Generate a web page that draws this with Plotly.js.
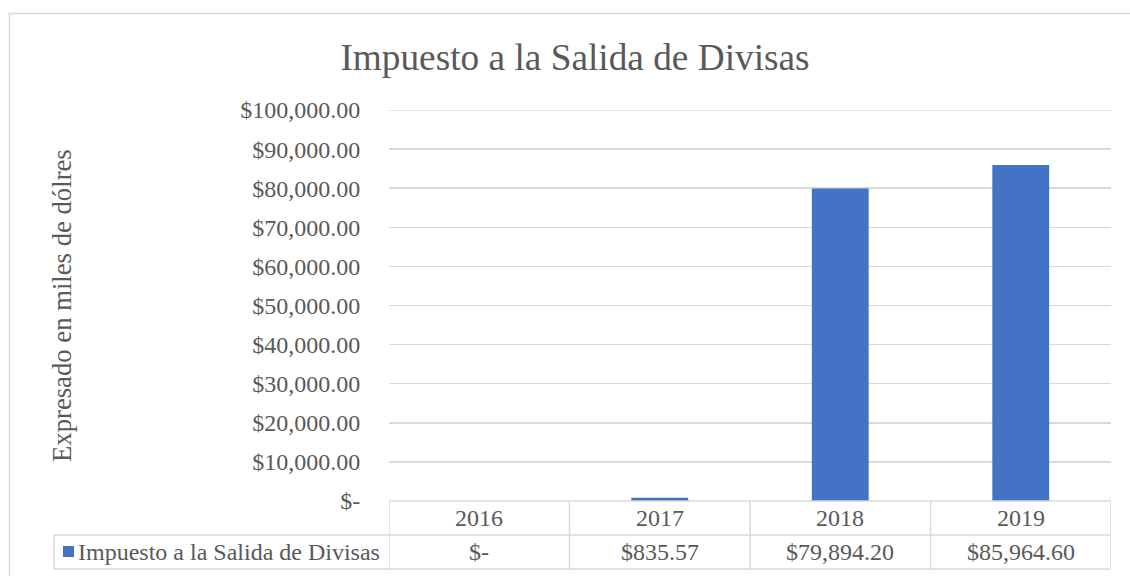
<!DOCTYPE html>
<html>
<head>
<meta charset="utf-8">
<script src="https://cdn.plot.ly/plotly-3.0.1.min.js"></script>
<style>html,body{margin:0;padding:0;background:#fff;}#chart{width:1130px;height:576px;}</style>
</head>
<body>
<div id="chart"></div>
<script>
// Data
const years = ['2016', '2017', '2018', '2019'];
const impuesto = [0, 835.57, 79894.20, 85964.60];
const seriesName = 'Impuesto a la Salida de Divisas';
const chartTitle = 'Impuesto a la Salida de Divisas';
const yTitle = 'Expresado en miles de dólres';
const yTickValues = [0, 10000, 20000, 30000, 40000, 50000, 60000, 70000, 80000, 90000, 100000];

function fmt(v) {
  if (v === 0) return '$-';
  return '$' + v.toLocaleString('en-US', {minimumFractionDigits: 2, maximumFractionDigits: 2});
}

const W = 1130, H = 576;
const L = 389, R = 1111, T = 110, B = 501;
const pw = R - L, ph = B - T;
const px = x => (x - L) / pw;
const py = y => (B - y) / ph;

const textColor = '#595959';
const lineColor = '#d9d9d9';
const font = 'Liberation Serif';
const fs = 24;

const shapes = [];
const annotations = [];
function hline(x0, x1, y, xref) {
  shapes.push({type: 'line', xref: xref || 'paper', yref: 'paper', x0: x0, x1: x1, y0: y, y1: y, line: {color: lineColor, width: 1.5}});
}
function vline(x, y0, y1, xref) {
  shapes.push({type: 'line', xref: xref || 'paper', yref: 'paper', x0: x, x1: x, y0: y0, y1: y1, line: {color: lineColor, width: 1.5}});
}

// outer chart border
shapes.push({type: 'rect', xref: 'paper', yref: 'paper', x0: px(9.5), x1: px(1160), y0: py(13.5), y1: py(620), line: {color: lineColor, width: 1.5}, fillcolor: 'rgba(0,0,0,0)'});

// top gridline (at range edge)
shapes.push({type: 'line', xref: 'paper', yref: 'y', x0: 0, x1: 1, y0: yTickValues[yTickValues.length - 1], y1: yTickValues[yTickValues.length - 1], line: {color: lineColor, width: 1.5}});

// data table
hline(px(L), px(R), py(501));
hline(px(54), px(R), py(535));
hline(px(54), px(R), py(569));
for (let i = 0; i <= years.length; i++) {
  vline(i - 0.5, py(501), py(569), 'x');
}
vline(px(54), py(535), py(569));

years.forEach((y, i) => {
  annotations.push({xref: 'x', yref: 'paper', x: i, y: py(518), text: y, showarrow: false, xanchor: 'center', yanchor: 'middle', font: {family: font, size: fs, color: textColor}});
  annotations.push({xref: 'x', yref: 'paper', x: i, y: py(552), text: fmt(impuesto[i]), showarrow: false, xanchor: 'center', yanchor: 'middle', font: {family: font, size: fs, color: textColor}});
});

// legend key in the table
shapes.push({type: 'rect', xref: 'paper', yref: 'paper', x0: px(63), x1: px(74), y0: py(546), y1: py(557), line: {width: 0}, fillcolor: '#4472C4'});
annotations.push({xref: 'paper', yref: 'paper', x: px(76), y: py(552), text: seriesName, showarrow: false, xanchor: 'left', yanchor: 'middle', font: {family: font, size: fs, color: textColor}});

// y-axis title
annotations.push({xref: 'paper', yref: 'paper', x: px(62), y: py(306), text: yTitle, textangle: -90, showarrow: false, xanchor: 'center', yanchor: 'middle', font: {family: font, size: 26.7, color: textColor}});

const data = [{
  type: 'bar',
  x: years,
  y: impuesto,
  name: seriesName,
  marker: {color: '#4472C4', line: {width: 0}},
  hoverinfo: 'skip'
}];

const layout = {
  width: W, height: H,
  margin: {l: L, r: W - R, t: T, b: H - B, pad: 0},
  paper_bgcolor: '#fff', plot_bgcolor: '#fff',
  showlegend: false,
  bargap: 0.685,
  font: {family: font, color: textColor},
  title: {text: chartTitle, x: 575 / W, xanchor: 'center', xref: 'container', y: 1 - 57 / H, yanchor: 'middle', yref: 'container', font: {family: font, size: 37.3, color: textColor}},
  xaxis: {type: 'category', range: [-0.5, years.length - 0.5], showticklabels: false, showgrid: false, zeroline: false, showline: false, ticks: ''},
  yaxis: {
    range: [0, 100000], tickvals: yTickValues, ticktext: yTickValues.map(fmt),
    showgrid: true, gridcolor: lineColor, gridwidth: 1.5, zeroline: false, showline: false,
    ticks: 'outside', ticklen: 23, tickcolor: 'rgba(0,0,0,0)',
    tickfont: {family: font, size: fs, color: textColor}
  },
  shapes: shapes,
  annotations: annotations
};

Plotly.newPlot('chart', data, layout, {displayModeBar: false, staticPlot: true});
</script>
</body>
</html>
